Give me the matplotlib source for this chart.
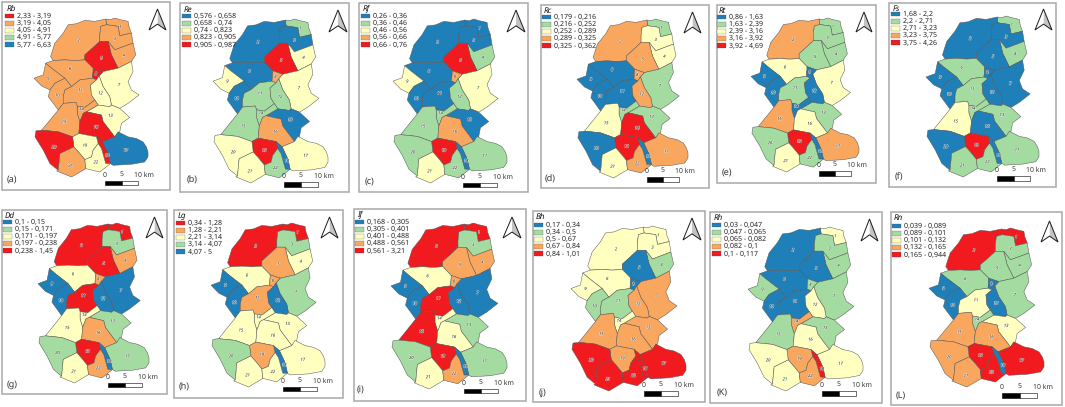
import matplotlib
matplotlib.use('Agg')
import matplotlib.pyplot as plt
from matplotlib.patches import Polygon, Rectangle
import matplotlib.patheffects as pe

plt.rcParams['text.hinting'] = 'no_hinting'
plt.rcParams['text.hinting_factor'] = 1
plt.rcParams['font.family'] = ['Noto Sans', 'DejaVu Sans']

# classes: 0 blue, 1 green, 2 yellow, 3 orange, 4 red
colors = ['#1f7fb8', '#a3dba1', '#ffffc0', '#f9a75f', '#f01a1f']

# sub-basin outlines
basins = {
    1: [(318,58),(332,60),(345,55),(362,60),(385,65),(388,82),(395,100),(360,108),(355,80),(320,75)],
    2: [(205,75),(230,72),(255,62),(285,65),(318,58),(320,75),(303,80),(300,105),(300,125),(278,145),(255,165),(255,180),(225,182),(195,180),(160,182),(152,170),(160,145),(165,130),(190,100)],
    3: [(320,75),(355,80),(360,108),(395,100),(400,130),(345,150),(325,125),(300,125),(300,105),(303,80)],
    4: [(345,150),(400,130),(408,165),(395,185),(355,205),(335,165),(325,125)],
    5: [(255,165),(278,145),(300,125),(325,125),(335,165),(355,205),(310,215),(280,205),(255,180)],
    6: [(160,182),(195,180),(225,182),(255,180),(280,205),(280,212),(278,235),(240,240),(215,260),(195,235),(155,205),(137,190)],
    7: [(355,205),(395,185),(400,215),(385,245),(395,270),(418,285),(385,310),(360,325),(335,315),(330,290),(310,260),(298,228),(310,215)],
    8: [(280,205),(310,215),(298,228),(290,240),(278,235),(280,212)],
    9: [(137,190),(155,205),(195,235),(165,250),(150,270),(125,258),(102,235),(130,225)],
    10: [(195,235),(215,260),(195,270),(190,290),(190,310),(175,330),(160,310),(145,290),(150,270),(165,250)],
    11: [(278,235),(290,240),(272,255),(275,285),(285,300),(255,322),(232,318),(228,307),(190,310),(190,290),(195,270),(215,260),(240,240)],
    12: [(290,240),(298,228),(310,260),(330,290),(335,315),(330,320),(295,315),(285,300),(275,285),(272,255)],
    13: [(295,315),(330,320),(335,315),(360,325),(390,352),(365,370),(360,395),(345,410),(310,365),(305,345),(260,335)],
    14: [(232,318),(255,322),(285,300),(295,315),(260,335),(250,340),(240,365),(232,340)],
    15: [(190,310),(228,307),(232,318),(232,340),(240,365),(237,400),(218,410),(175,395),(125,390),(150,360),(175,330)],
    16: [(260,335),(305,345),(310,365),(345,410),(308,425),(290,410),(237,400),(240,365),(250,340)],
    17: [(345,410),(355,395),(385,410),(410,415),(430,425),(440,440),(445,455),(445,470),(435,485),(395,492),(340,495),(332,490),(325,460),(308,425)],
    18: [(290,410),(308,425),(325,460),(332,490),(318,490),(305,445),(295,430)],
    19: [(218,410),(237,400),(290,410),(295,430),(280,450),(275,470),(255,478),(240,460),(222,440)],
    20: [(125,390),(175,395),(218,410),(222,440),(180,460),(175,510),(150,490),(130,450),(105,410),(108,392)],
    21: [(180,460),(222,440),(240,460),(255,478),(258,505),(215,530),(170,512),(175,510)],
    22: [(275,470),(280,450),(295,430),(305,445),(318,490),(332,490),(300,515),(258,505),(255,478)],
}
label_pos = {1:(362,82),2:(236,122),3:(345,117),4:(372,167),5:(305,175),6:(210,207),7:(358,255),8:(288,222),
             9:(145,236),10:(172,286),11:(242,271),12:(302,280),13:(332,347),14:(245,328),15:(192,366),16:(288,381),
             17:(378,451),18:(322,466),19:(255,436),20:(162,441),21:(212,496),22:(288,486)}

# class of each sub-basin 1..22 per panel
rb = [3,3,3,3,4,3,2,4,3,3,3,2,2,3,3,4,0,4,2,4,3,2]
re = [1,0,0,2,4,0,2,3,2,0,1,1,0,1,1,3,2,0,4,2,2,1]
rf = [0,0,0,1,4,0,2,3,2,0,0,1,0,1,1,3,1,0,4,1,2,1]
rc = [1,3,2,2,3,0,1,3,0,0,0,3,1,1,2,4,3,0,4,0,2,3]
rt = [1,3,1,1,1,2,2,0,0,0,1,0,1,0,3,2,3,0,4,1,2,1]
fs = [1,0,0,1,0,1,0,0,0,0,1,0,1,1,2,0,1,0,4,0,1,1]
dd = [4,4,1,3,4,2,0,3,0,0,4,0,1,2,2,3,1,0,4,1,2,3]
lg = [4,4,1,2,3,2,1,3,0,0,3,0,2,2,2,2,2,0,3,1,2,2]
iff = [4,4,1,3,3,2,0,3,0,0,4,0,1,2,4,2,1,0,4,1,2,3]
bh = [2,2,2,1,0,2,3,0,2,1,1,3,3,2,3,3,4,4,3,4,4,4]
rh = [2,0,1,1,0,0,1,1,1,0,0,2,1,3,1,2,2,4,3,2,2,3]
rn = [4,4,1,1,1,1,1,0,0,0,2,0,2,1,3,3,4,0,4,3,3,4]

range_rb = ['2,33 - 3,19','3,19 - 4,05','4,05 - 4,91','4,91 - 5,77','5,77 - 6,63']
range_re = ['0,576 - 0,658','0,658 - 0,74','0,74 - 0,823','0,823 - 0,905','0,905 - 0,987']
range_rf = ['0,26 - 0,36','0,36 - 0,46','0,46 - 0,56','0,56 - 0,66','0,66 - 0,76']
range_rc = ['0,179 - 0,216','0,216 - 0,252','0,252 - 0,289','0,289 - 0,325','0,325 - 0,362']
range_rt = ['0,86 - 1,63','1,63 - 2,39','2,39 - 3,16','3,16 - 3,92','3,92 - 4,69']
range_fs = ['1,68 - 2,2','2,2 - 2,71','2,71 - 3,23','3,23 - 3,75','3,75 - 4,26']
range_dd = ['0,1 - 0,15','0,15 - 0,171','0,171 - 0,197','0,197 - 0,238','0,238 - 1,45']
range_lg = ['0,34 - 1,28','1,28 - 2,21','2,21 - 3,14','3,14 - 4,07','4,07 - 5']
range_if = ['0,168 - 0,305','0,305 - 0,401','0,401 - 0,488','0,488 - 0,561','0,561 - 3,21']
range_bh = ['0,17 - 0,34','0,34 - 0,5','0,5 - 0,67','0,67 - 0,84','0,84 - 1,01']
range_rh = ['0,03 - 0,047','0,047 - 0,065','0,065 - 0,082','0,082 - 0,1','0,1 - 0,117']
range_rn = ['0,039 - 0,089','0,089 - 0,101','0,101 - 0,132','0,132 - 0,165','0,165 - 0,944']

# name, classes, ranges, legend colours reversed, letter,
# frame(x0,x1,y0,y1), map(x0,x1,y0,y1), legend(swatch x, first row y, title y),
# arrow(x0,x1,y0,y1), bar(x0,x1,y0,y1), letter(x,y)
panels = [
    ('Rb', rb, range_rb, True, '(a)', (2,170,2,190), (34,148,18,177), (5,16,9), (149,166,9,30), (105,138,181,185), (7,179)),
    ('Re', re, range_re, False, '(b)', (180,349,3,192), (213,328,19,183), (182,16,10), (329,347,10,32), (284,318,182,187), (187,180)),
    ('Rf', rf, range_rf, False, '(c)', (359,528,3,192), (393,507,19,183), (361,16,9), (507,525,10,32), (463,497,183,187), (365,181)),
    ('Rc', rc, range_rc, False, '(d)', (541,709,5,188), (577,688,19,178), (542,17,11), (684,701,12,33), (647,679,177,182), (545,179)),
    ('Rt', rt, range_rt, False, '(e)', (717,876,5,183), (751,859,18,172), (717,17,11), (856,872,12,32), (819,851,171,176), (722,172)),
    ('Fs', fs, range_fs, False, '(f)', (889,1056,3,187), (926,1039,16,177), (891,14,9), (1035,1052,9,30), (997,1030,176,181), (895,177)),
    ('Dd', dd, range_dd, False, '(g)', (2,167,210,394), (38,149,223,383), (3,222,216), (146,163,217,238), (108,142,383,387), (7,384)),
    ('Lg', lg, range_lg, True, '(h)', (174,343,210,398), (211,325,223,387), (176,223,216), (321,338,217,238), (283,317,387,391), (179,387)),
    ('If', iff, range_if, False, '(i)', (354,526,209,401), (391,507,223,389), (355,222,215), (503,521,217,238), (464,498,389,393), (357,390)),
    ('Bh', bh, range_bh, False, '(j)', (533,705,211,402), (571,686,226,391), (534,225,217), (683,701,218,240), (644,678,391,396), (539,392)),
    ('Rh', rh, range_rh, False, '(K)', (710,882,212,403), (748,863,227,391), (712,225,218), (861,878,219,241), (822,856,391,396), (717,392)),
    ('Rn', rn, range_rn, False, '(L)', (891,1062,212,405), (929,1044,228,387), (892,226,218), (1041,1058,221,242), (1002,1037,393,398), (896,395)),
]

fig = plt.figure(figsize=(10.65, 4.07), dpi=100)
ax = fig.add_axes([0, 0, 1, 1])
ax.set_xlim(0, 1065)
ax.set_ylim(407, 0)
ax.axis('off')

for name, classes, ranges, rev, letter, frame, extent, leg, arrow, bar, lpos in panels:
    fx0, fx1, fy0, fy1 = frame
    ax.add_patch(Rectangle((fx0, fy0), fx1-fx0, fy1-fy0, fc='white', ec='#a8a8a8', lw=1.1))

    # map, base outline is x 102-445, y 55-530
    mx0, mx1, my0, my1 = extent
    def tx(p):
        return (mx0 + (p[0]-102)/343*(mx1-mx0), my0 + (p[1]-55)/475*(my1-my0))
    for i, pts in basins.items():
        ax.add_patch(Polygon([tx(p) for p in pts], closed=True, fc=colors[classes[i-1]], ec='#555555', lw=0.35))
    for i, p in label_pos.items():
        x, y = tx(p)
        ax.text(x, y, str(i), fontsize=3, style='italic', color='#333333', ha='center', va='center',
                path_effects=[pe.withStroke(linewidth=0.7, foreground='white', alpha=0.6)])

    # legend
    sx, sy, ty = leg
    ax.text(sx+2, ty, name, fontsize=5.8, style='italic', fontweight='bold', color='#111111', ha='left', va='center')
    order = [4, 3, 2, 1, 0] if rev else [0, 1, 2, 3, 4]
    for k in range(5):
        y = sy + k*7.2
        ax.add_patch(Rectangle((sx, y-2.4), 9, 4.8, fc=colors[order[k]], ec='#555555', lw=0.2))
        ax.text(sx+12, y, ranges[k], fontsize=5.1, color='#222222', ha='left', va='center')

    # north arrow
    ax0, ax1, ay0, ay1 = arrow
    cx = (ax0+ax1)/2
    notch = ay0 + (ay1-ay0)*0.72
    ax.add_patch(Polygon([(cx, ay0), (ax1, ay1), (cx, notch)], closed=True, fc='#c4c4c4', ec='none'))
    ax.add_patch(Polygon([(cx, ay0), (ax0, ay1), (cx, notch)], closed=True, fc='white', ec='none'))
    ax.add_patch(Polygon([(cx, ay0), (ax1, ay1), (cx, notch), (ax0, ay1)], closed=True, fc='none', ec='#1a1a1a', lw=0.7))

    # scale bar
    bx0, bx1, by0, by1 = bar
    bm = (bx0+bx1)/2
    ax.add_patch(Rectangle((bx0, by0), bm-bx0, by1-by0, fc='black', ec='black', lw=0.4))
    ax.add_patch(Rectangle((bm, by0), bx1-bm, by1-by0, fc='white', ec='black', lw=0.4))
    ax.text(bx0, by0-6, '0', fontsize=5, color='#333333', ha='center', va='center')
    ax.text(bm, by0-6, '5', fontsize=5, color='#333333', ha='center', va='center')
    ax.text(bx1+6, by0-6, '10 km', fontsize=5, color='#333333', ha='center', va='center')

    ax.text(lpos[0], lpos[1], letter, fontsize=6.5, color='#333333', ha='left', va='center')

fig.savefig('out.png', dpi=100)
